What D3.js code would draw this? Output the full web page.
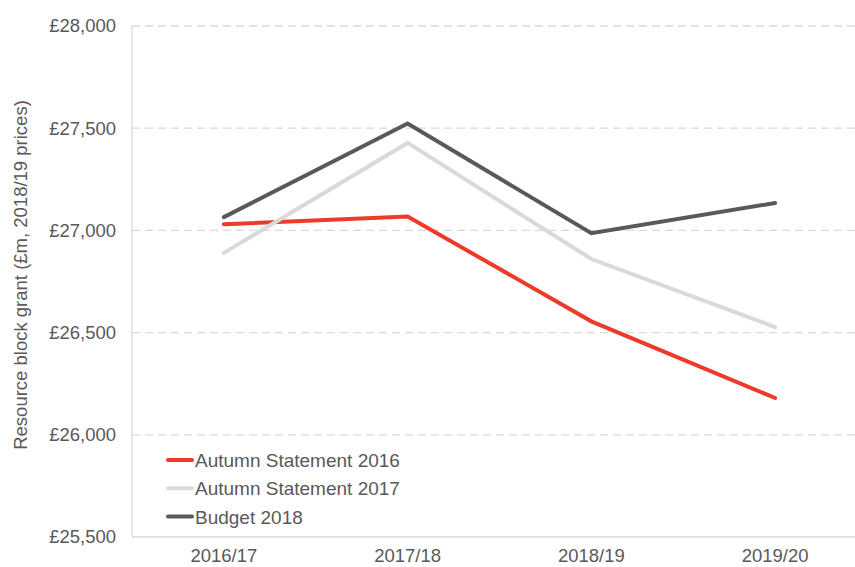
<!DOCTYPE html>
<html>
<head>
<meta charset="utf-8">
<script src="https://cdn.jsdelivr.net/npm/d3@7"></script>
<style>
  body { margin: 0; background: #fff; }
  svg { display: block; font-family: "Liberation Sans", Arial, sans-serif; }
</style>
</head>
<body>
<div id="chart"></div>
<script>
const years = ["2016/17", "2017/18", "2018/19", "2019/20"];
const seriesNames = ["Autumn Statement 2016", "Autumn Statement 2017", "Budget 2018"];
const autumn2016 = [27030, 27068, 26555, 26180];
const autumn2017 = [26890, 27428, 26860, 26527];
const budget2018 = [27065, 27523, 26986, 27134];
const yTicks = [25500, 26000, 26500, 27000, 27500, 28000];

const colours = ["#ee3a2b", "#d9d9d9", "#595959"];
const allSeries = [autumn2016, autumn2017, budget2018];

const width = 855;
const height = 567;
const plotLeft = 132, plotTop = 26, plotBottom = 537, plotRight = 867;

const svg = d3.select("#chart")
  .append("svg")
  .attr("width", width)
  .attr("height", height);

const x = d3.scaleBand()
  .domain(years)
  .range([plotLeft, plotRight]);

const y = d3.scaleLinear()
  .domain([25500, 28000])
  .range([plotBottom, plotTop]);

// gridlines
svg.append("g")
  .selectAll("line")
  .data(yTicks.slice(1))
  .enter()
  .append("line")
  .attr("x1", plotLeft)
  .attr("x2", plotRight)
  .attr("y1", d => y(d))
  .attr("y2", d => y(d))
  .attr("stroke", "#d9d9d9")
  .attr("stroke-width", 1.3)
  .attr("stroke-dasharray", "8,5");

// axis lines
svg.append("line")
  .attr("x1", plotLeft).attr("x2", plotLeft)
  .attr("y1", plotTop).attr("y2", plotBottom)
  .attr("stroke", "#d9d9d9").attr("stroke-width", 1.3);
svg.append("line")
  .attr("x1", plotLeft).attr("x2", plotRight)
  .attr("y1", plotBottom).attr("y2", plotBottom)
  .attr("stroke", "#d9d9d9").attr("stroke-width", 1.3);

// y tick labels
const fmt = d3.format(",");
svg.append("g")
  .selectAll("text")
  .data(yTicks)
  .enter()
  .append("text")
  .attr("x", 116)
  .attr("y", d => y(d))
  .attr("dy", "0.35em")
  .attr("text-anchor", "end")
  .attr("font-size", 18.5)
  .attr("fill", "#595959")
  .text(d => "£" + fmt(d));

// x labels
svg.append("g")
  .selectAll("text")
  .data(years)
  .enter()
  .append("text")
  .attr("x", d => x(d) + x.bandwidth() / 2)
  .attr("y", 562)
  .attr("text-anchor", "middle")
  .attr("font-size", 18.5)
  .attr("fill", "#595959")
  .text(d => d);

// y title
svg.append("text")
  .attr("transform", "translate(27,275) rotate(-90)")
  .attr("text-anchor", "middle")
  .attr("font-size", 18.5)
  .attr("fill", "#595959")
  .text("Resource block grant (£m, 2018/19 prices)");

// lines
const line = d3.line()
  .x((d, i) => x(years[i]) + x.bandwidth() / 2)
  .y(d => y(d));

svg.append("g")
  .selectAll("path")
  .data(allSeries)
  .enter()
  .append("path")
  .attr("d", d => line(d))
  .attr("fill", "none")
  .attr("stroke", (d, i) => colours[i])
  .attr("stroke-width", 4)
  .attr("stroke-linejoin", "miter")
  .attr("stroke-linecap", "round");

// legend
const legend = svg.append("g")
  .attr("transform", "translate(167,460)");

const item = legend.selectAll("g")
  .data(seriesNames)
  .enter()
  .append("g")
  .attr("transform", (d, i) => `translate(0,${i * 28.3})`);

item.append("line")
  .attr("x1", 1).attr("x2", 25)
  .attr("y1", 0).attr("y2", 0)
  .attr("stroke", (d, i) => colours[i])
  .attr("stroke-width", 4)
  .attr("stroke-linecap", "round");

item.append("text")
  .attr("x", 28)
  .attr("y", 6.9)
  .attr("font-size", 19)
  .attr("fill", "#595959")
  .text(d => d);
</script>
</body>
</html>
